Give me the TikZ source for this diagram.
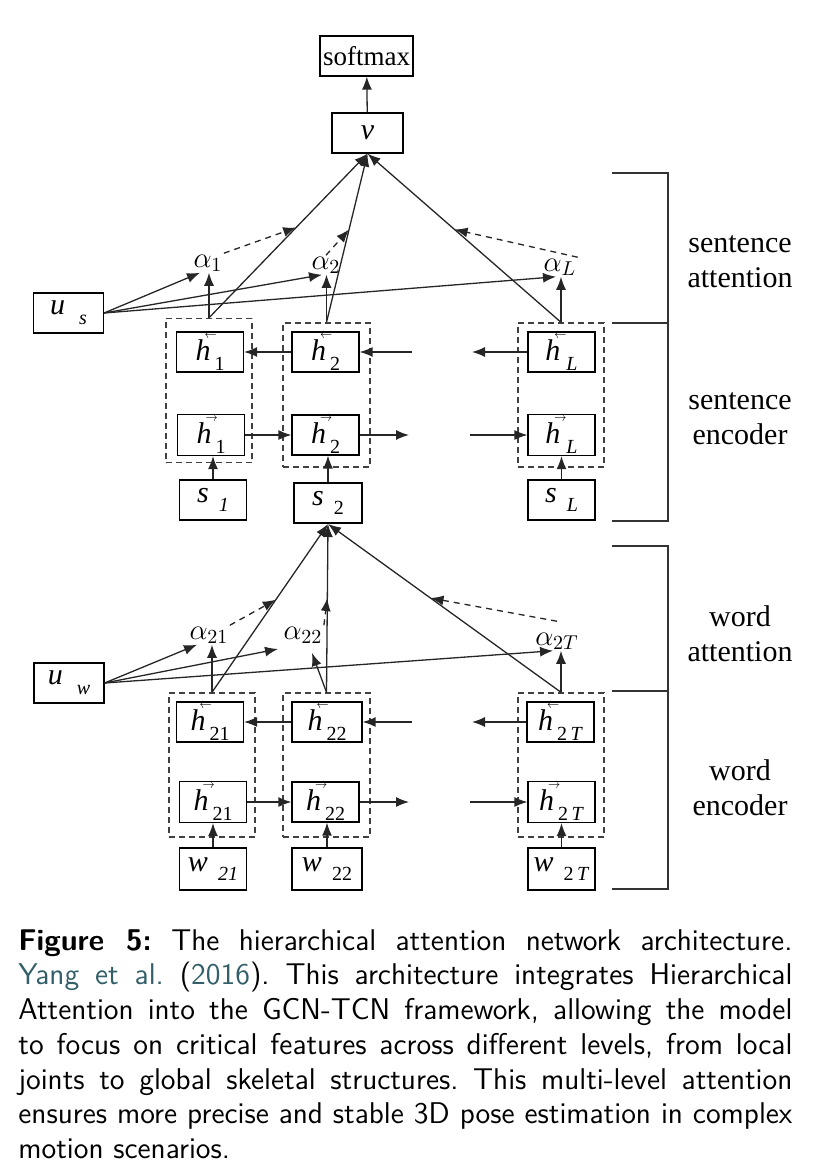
\documentclass[tikz,border=0pt]{standalone}
\usepackage{fontspec}
\usepackage{graphicx}
\usetikzlibrary{arrows.meta,calc}

\newfontfamily\timesfont{Liberation Serif}
\definecolor{citeteal}{RGB}{50,95,105}

\newcommand{\vh}[1]{\rlap{\raisebox{0.74em}{\kern0.3em\scalebox{0.42}[0.5]{$#1$}}}\textit{h}}
\newcommand{\lowsub}[1]{\raisebox{-0.32em}{\fontsize{10}{10}\selectfont #1}}

\tikzset{
	box/.style={draw, line width=0.6pt, minimum width=33.5pt, minimum height=20pt, inner sep=0pt, font=\timesfont\fontsize{15}{15}\selectfont},
	col/.style={draw=black!75, line width=0.7pt, dash pattern=on 3pt off 2pt, minimum width=43pt, minimum height=72pt, inner sep=0pt},
	alpha/.style={inner sep=0.5pt, font=\fontsize{14}{14}\selectfont},
	arr/.style={-{Latex[length=6.5pt,width=5pt]}},
	link/.style={line width=0.65pt, black!85},
	att/.style={link, dash pattern=on 3pt off 2.5pt},
	side/.style={font=\timesfont\fontsize{15}{17.5}\selectfont, align=center},
}

\begin{document}
\begin{tikzpicture}[x=0.5pt,y=-0.5pt]
		\useasboundingbox (0,0) rectangle (823,1176);
		
		% sentence level
		\node[box, minimum width=46.5pt, font=\timesfont\fontsize{13.5}{13.5}\selectfont] (softmax) at (366.5,56) {softmax};
		\node[box, minimum width=35.5pt] (v) at (367.5,133) {\textit{v}};
		\node[box, minimum width=35pt] (us) at (68.5,313) {\textit{u}\kern7pt\lowsub{\textit{s}}};
		
		\node[col] (cs1) at (209,390.5) {};
		\node[col, minimum width=43.5pt] (cs2) at (326.5,395) {};
		\node[col] (csL) at (561,395) {};
		
		\node[box] (hb1) at (210,352) {\vh{\leftarrow}\kern2pt\lowsub{1}};
		\node[box] (hb2) at (325.5,352) {\vh{\leftarrow}\kern2pt\lowsub{2}};
		\node[box] (hbL) at (561.5,352) {\vh{\leftarrow}\kern3pt\lowsub{\textit{L}}};
		
		\node[box, minimum height=20.5pt] (hf1) at (211,435) {\vh{\rightarrow}\kern2pt\lowsub{1}};
		\node[box] (hf2) at (325.5,435) {\vh{\rightarrow}\kern2pt\lowsub{2}};
		\node[box, minimum height=20.5pt] (hfL) at (561.5,435) {\vh{\rightarrow}\kern3pt\lowsub{\textit{L}}};
		
		\node[box] (s1) at (213,500) {\textit{s}\kern5pt\lowsub{\textit{1}}};
		\node[box, minimum width=34pt, line width=1pt] (s2) at (328,503) {\textit{s}\kern5pt\lowsub{2}};
		\node[box] (sL) at (561.5,500) {\textit{s}\kern5pt\lowsub{\textit{L}}};
		
		\node[alpha] (a1) at (208,263) {$\alpha_1$};
		\node[alpha] (a2) at (326,265) {$\alpha_2$};
		\node[alpha] (aL) at (560,267) {$\alpha_L$};
		
		\coordinate (sb-in) at (412,352);
		\coordinate (sb-out) at (472,352);
		\coordinate (sf-out) at (409,435);
		\coordinate (sf-in) at (470,435);
		
		\draw[link,arr] (v) -- (softmax);
		\draw[link,arr] (cs1.north) -- (v.south);
		\draw[link,arr] (cs2.north) -- (v.south);
		\draw[link,arr] (csL.north) -- (v.south);
		
		\draw[att,arr] (a1.north east) -- ($(cs1.north)!0.55!(v.south)$);
		\draw[att,arr] (a2.north) -- ($(cs2.north)!0.55!(v.south)$);
		\draw[att,arr] (aL.north east) -- ($(csL.north)!0.55!(v.south)$);
		
		\draw[link,arr] (us.east) -- ([xshift=-4pt]a1.south);
		\draw[link,arr] (us.east) -- ([xshift=-2pt]a2.south);
		\draw[link,arr] (us.east) -- ([xshift=-2pt]aL.south);
		\draw[link,arr] (cs1.north) -- (cs1.north |- a1.south);
		\draw[link,arr] (cs2.north) -- (cs2.north |- a2.south);
		\draw[link,arr] (csL.north) -- (csL.north |- aL.south);
		
		\draw[link,arr] (hb2.west) -- (hb1.east);
		\draw[link,arr] (sb-in) -- (hb2.east);
		\draw[link,arr] (hbL.west) -- (sb-out);
		\draw[link,arr] (hf1.east) -- (hf2.west);
		\draw[link,arr] (hf2.east) -- (sf-out);
		\draw[link,arr] (sf-in) -- (hfL.west);
		
		\draw[link,arr] (s1.north) -- (s1.north |- hf1.south);
		\draw[link,arr] (s2.north) -- (s2.north |- hf2.south);
		\draw[link,arr] (sL.north) -- (sL.north |- hfL.south);
		
		% word level
		\node[box, minimum width=35pt] (uw) at (69,683) {\textit{u}\kern7pt\lowsub{\textit{w}}};
		
		\node[col] (cw1) at (212,765) {};
		\node[col, minimum width=43.5pt] (cw2) at (326.5,765) {};
		\node[col] (cwT) at (561,765) {};
		
		\node[box] (hb21) at (210,722) {\vh{\leftarrow}\kern2pt\lowsub{21}};
		\node[box, minimum width=35pt] (hb22) at (327,722) {\vh{\leftarrow}\kern2pt\lowsub{22}};
		\node[box] (hb2T) at (560.5,722) {\vh{\leftarrow}\kern2pt\lowsub{2\,\textit{T}}};
		
		\node[box, minimum height=20.5pt] (hf21) at (213,802) {\vh{\rightarrow}\kern2pt\lowsub{21}};
		\node[box] (hf22) at (325.5,802) {\vh{\rightarrow}\kern2pt\lowsub{22}};
		\node[box, minimum height=20.5pt] (hf2T) at (561.5,802) {\vh{\rightarrow}\kern2pt\lowsub{2\,\textit{T}}};
		
		\node[box, minimum height=21pt] (w21) at (213,869) {\textit{w}\kern5pt\lowsub{\textit{21}}};
		\node[box, minimum width=35pt, minimum height=21pt] (w22) at (327,869) {\textit{w}\kern5pt\lowsub{22}};
		\node[box, minimum height=21pt] (w2T) at (561.5,869) {\textit{w}\kern5pt\lowsub{2\,\textit{T}}};
		
		\node[alpha] (a21) at (209,635) {$\alpha_{21}$};
		\node[alpha] (a22) at (303,635) {$\alpha_{22}$};
		\node[alpha] (a2T) at (557,641) {$\alpha_{2T}$};
		
		\coordinate (uw-mid) at (278,649);
		\coordinate (a22-in) at (312,653);
		\coordinate (wb-in) at (412,722);
		\coordinate (wb-out) at (472,722);
		\coordinate (wf-out) at (409,802);
		\coordinate (wf-in) at (470,802);
		
		\draw[link,arr] (cw1.north) -- (s2.south);
		\draw[link,arr] (cw2.north) -- (s2.south);
		\draw[link,arr] (cwT.north) -- (s2.south);
		
		\draw[att,arr] (a21.north east) -- ($(cw1.north)!0.55!(s2.south)$);
		\draw[att,arr] (a22.north east) -- ($(cw2.north)!0.56!(s2.south)$);
		\draw[att,arr] ([yshift=5pt]a2T.north) -- ($(cwT.north)!0.56!(s2.south)$);
		
		\draw[link,arr] (uw.east) -- ([xshift=-6pt]a21.south);
		\draw[link,arr] (uw.east) -- (uw-mid);
		\draw[link,arr] (uw.east) -- ([xshift=-2pt]a2T.south);
		\draw[link,arr] (cw1.north) -- (cw1.north |- a21.south);
		\draw[link,arr] (cw2.north) -- (a22-in);
		\draw[link,arr] (cwT.north) -- (cwT.north |- a2T.south);
		
		\draw[link,arr] (hb22.west) -- (hb21.east);
		\draw[link,arr] (wb-in) -- (hb22.east);
		\draw[link,arr] (hb2T.west) -- (wb-out);
		\draw[link,arr] (hf21.east) -- (hf22.west);
		\draw[link,arr] (hf22.east) -- (wf-out);
		\draw[link,arr] (wf-in) -- (hf2T.west);
		
		\draw[link,arr] (w21.north) -- (w21.north |- hf21.south);
		\draw[link,arr] (w22.north) -- (w22.north |- hf22.south);
		\draw[link,arr] (w2T.north) -- (w2T.north |- hf2T.south);
		
		% brackets on the right
		\draw[line width=0.7pt, black!80] (612,173) -- (668,173) -- (668,521) -- (612,521);
		\draw[line width=0.7pt, black!80] (612,323) -- (668,323);
		\draw[line width=0.7pt, black!80] (612,546) -- (668,546) -- (668,889) -- (612,889);
		\draw[line width=0.7pt, black!80] (612,691) -- (668,691);
		
		\node[side] (sent-att) at (740,262) {sentence\\attention};
		\node[side] (sent-enc) at (740,419) {sentence\\encoder};
		\node[side] (word-att) at (740,634) {word\\attention};
		\node[side] (word-enc) at (740,788) {word\\encoder};
		
		% caption
		\node[anchor=north west, text width=387pt, align=justify, inner sep=0pt, font=\sffamily\fontsize{15}{17.35}\selectfont] (caption) at (18,929)
			{\frenchspacing\tolerance=10000\hyphenpenalty=10000\textbf{Figure 5:} The hierarchical attention network architecture.\linebreak
			\textcolor{citeteal}{Yang et al.} (\textcolor{citeteal}{2016}). This architecture integrates Hierarchical\linebreak
			Attention into the GCN-TCN framework, allowing the model\linebreak
			to focus on critical features across different levels, from local\linebreak
			joints to global skeletal structures. This multi-level attention\linebreak
			ensures more precise and stable 3D pose estimation in complex\linebreak
			motion scenarios.};
	\end{tikzpicture}
\end{document}
